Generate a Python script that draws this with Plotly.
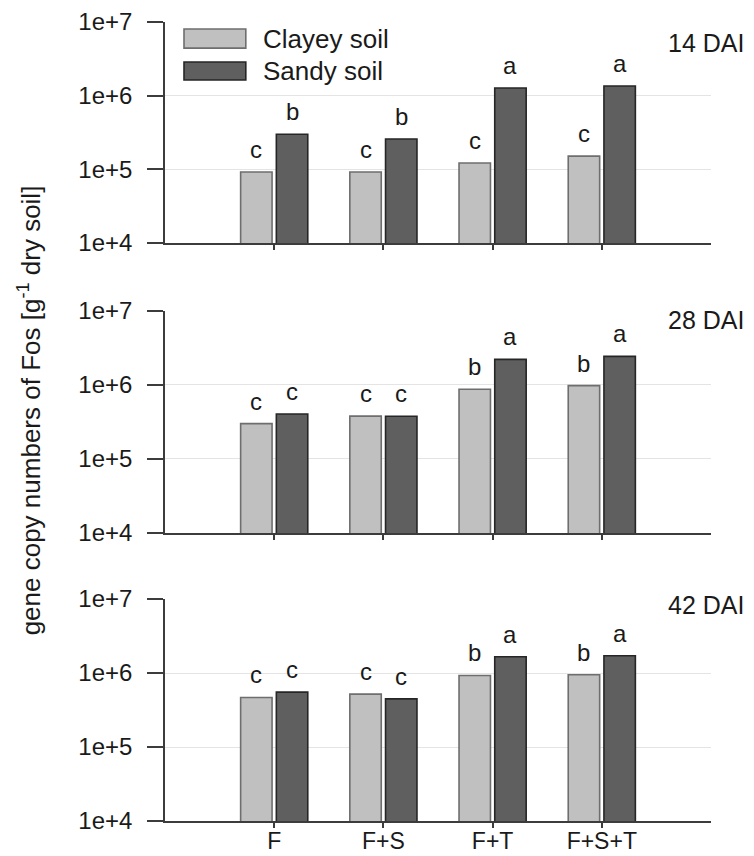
import math
import plotly.graph_objects as go
from plotly.subplots import make_subplots

# Treatments and sampling dates
treatments = ["F", "F+S", "F+T", "F+S+T"]
dates = ["14 DAI", "28 DAI", "42 DAI"]

# Gene copy numbers per g dry soil, one list per date
clayey_14 = [9.2e4, 9.2e4, 1.22e5, 1.51e5]
sandy_14 = [3.0e5, 2.58e5, 1.27e6, 1.35e6]
clayey_28 = [3.0e5, 3.8e5, 8.75e5, 9.8e5]
sandy_28 = [4.05e5, 3.78e5, 2.22e6, 2.44e6]
clayey_42 = [4.68e5, 5.18e5, 9.28e5, 9.46e5]
sandy_42 = [5.52e5, 4.48e5, 1.66e6, 1.71e6]

# Significance letters
letters_clayey_14 = ["c", "c", "c", "c"]
letters_sandy_14 = ["b", "b", "a", "a"]
letters_clayey_28 = ["c", "c", "b", "b"]
letters_sandy_28 = ["c", "c", "a", "a"]
letters_clayey_42 = ["c", "c", "b", "b"]
letters_sandy_42 = ["c", "c", "a", "a"]

tick_vals = [1e4, 1e5, 1e6, 1e7]
tick_text = ["1e+4", "1e+5", "1e+6", "1e+7"]

FONT = "Liberation Sans, Arial, sans-serif"
TXT = "#1a1a1a"
AX = "#3c3c3c"
CLAY_FILL, CLAY_LINE = "#c0c0c0", "#6e6e6e"
SAND_FILL, SAND_LINE = "#5f5f5f", "#262626"
BARGAP = 0.346
BARGROUPGAP = 0.12

panels = [
    (clayey_14, sandy_14, letters_clayey_14, letters_sandy_14),
    (clayey_28, sandy_28, letters_clayey_28, letters_sandy_28),
    (clayey_42, sandy_42, letters_clayey_42, letters_sandy_42),
]

fig = make_subplots(rows=3, cols=1, vertical_spacing=0.05)

annotations = []
half = (1 - BARGAP) / 4.0
for r, (clay, sand, lc, ls) in enumerate(panels, start=1):
    fig.add_trace(go.Bar(x=treatments, y=clay, name="Clayey soil",
                         marker=dict(color=CLAY_FILL, line=dict(color=CLAY_LINE, width=1.6)),
                         showlegend=False), row=r, col=1)
    fig.add_trace(go.Bar(x=treatments, y=sand, name="Sandy soil",
                         marker=dict(color=SAND_FILL, line=dict(color=SAND_LINE, width=1.6)),
                         showlegend=False), row=r, col=1)
    xr = "x" if r == 1 else f"x{r}"
    yr = "y" if r == 1 else f"y{r}"
    for i in range(len(treatments)):
        for vals, labs, sign in ((clay, lc, -1), (sand, ls, 1)):
            annotations.append(dict(
                x=i + sign * half, y=math.log10(vals[i]), xref=xr, yref=yr,
                text=labs[i], showarrow=False, yanchor="bottom", yshift=7,
                font=dict(family=FONT, size=24, color=TXT)))

# domains (fraction of plot area height)
domains = [[0.7234, 1.0], [0.3605, 0.6383], [0.0, 0.2778]]
dai_y = [0.905, 0.959, 0.973]
for r in range(1, 4):
    fig.update_yaxes(row=r, col=1, type="log", range=[4, 7], domain=domains[r - 1],
                     tickvals=tick_vals, ticktext=tick_text,
                     ticks="outside", ticklen=16, tickwidth=1.5, tickcolor=AX,
                     ticklabelstandoff=10,
                     showline=True, linecolor=AX, linewidth=1.6,
                     showgrid=True, gridcolor="#e4e4e4", gridwidth=1,
                     zeroline=False, automargin=False,
                     tickfont=dict(family=FONT, size=24, color=TXT))
    fig.update_xaxes(row=r, col=1, type="category", range=[-1, 4],
                     categoryorder="array", categoryarray=treatments,
                     ticks="outside", ticklen=5, tickwidth=1.5, tickcolor=AX,
                     ticklabelstandoff=-6,
                     showline=True, linecolor=AX, linewidth=1.6,
                     showgrid=False, zeroline=False, automargin=False,
                     showticklabels=(r == 3),
                     tickfont=dict(family=FONT, size=23, color=TXT))
    xd = "x domain" if r == 1 else f"x{r} domain"
    yd = "y domain" if r == 1 else f"y{r} domain"
    annotations.append(dict(x=1.064, y=dai_y[r - 1], xref=xd, yref=yd,
                            text=dates[r - 1], showarrow=False,
                            xanchor="right", yanchor="middle",
                            font=dict(family=FONT, size=25, color=TXT)))

# legend drawn inside the first panel
legend_items = [("Clayey soil", CLAY_FILL, CLAY_LINE, 0.968, 0.882),
                ("Sandy soil", SAND_FILL, SAND_LINE, 0.819, 0.7376)]
shapes = []
for name, fill, line, y1, y0 in legend_items:
    shapes.append(dict(type="rect", xref="x domain", yref="y domain",
                       x0=0.0348, x1=0.148, y0=y0, y1=y1,
                       fillcolor=fill, line=dict(color=line, width=1.6)))
    annotations.append(dict(x=0.176, y=(y0 + y1) / 2, xref="x domain", yref="y domain",
                            text=name, showarrow=False, xanchor="left", yanchor="middle",
                            font=dict(family=FONT, size=26, color=TXT)))

annotations.append(dict(x=-0.249, y=0.514, xref="paper", yref="paper",
                        text="gene copy numbers of Fos [g<sup>-1</sup> dry soil]",
                        textangle=-90, showarrow=False, xanchor="center", yanchor="middle",
                        font=dict(family=FONT, size=26, color=TXT)))

fig.update_layout(
    width=754, height=856,
    margin=dict(l=165, r=43, t=22, b=35, pad=0),
    paper_bgcolor="white", plot_bgcolor="white",
    barmode="group", bargap=BARGAP, bargroupgap=BARGROUPGAP,
    showlegend=False,
    annotations=annotations, shapes=shapes,
    font=dict(family=FONT, color=TXT),
)

fig.write_html("out.html")
